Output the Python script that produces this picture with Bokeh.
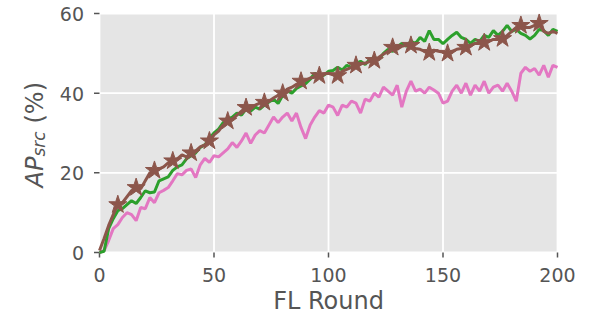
import math
from bokeh.plotting import figure
from bokeh.models import Range1d, Label
from bokeh.core.properties import value
from bokeh.embed import file_html
from bokeh.resources import INLINE

rounds = list(range(0, 201, 2))
pink = [0, 0.5, 3, 6, 7, 8.8, 10, 9.5, 8, 11.3,
        11, 13.8, 12.5, 15, 15.6, 16.3, 18, 19.8, 19.5, 20.6,
        21, 18.8, 22, 23.6, 22.6, 24.3, 24, 25, 26, 27.6,
        26.4, 28, 30, 27.4, 29.5, 30.6, 30, 32, 34, 32.6,
        34, 35, 33, 35, 31.4, 28.6, 32, 34, 35.6, 35,
        37, 36.5, 34.4, 37, 36.5, 38, 37.5, 35, 38.5, 38,
        40, 39, 41.5, 40.5, 39.5, 42, 36.5, 40.5, 43, 40.5,
        41, 40, 41.5, 40.8, 40, 37.5, 38, 40.5, 42, 40,
        42.5, 39.5, 42, 40.5, 43, 40, 41.5, 42, 40.5, 42.5,
        40.5, 38, 45, 46.5, 45.5, 46.2, 44.5, 47, 44, 47,
        46.5]
green = [0, 0.3, 6, 8.5, 10.5, 11, 12, 13, 12.3, 13.8,
         15.5, 15, 15.2, 18, 18.5, 19, 20.6, 21.5, 22, 23.5,
         24.3, 25, 26.4, 27, 28.6, 30, 31, 32.6, 33.5, 34,
         35, 34.5, 36, 35.5, 36.5, 36, 37, 37.8, 38.5, 37.4,
         39.5, 40.5, 40, 41.2, 41.8, 42.4, 43.5, 45, 44, 44.5,
         45.5, 45.7, 46.5, 45.8, 47, 46.5, 47.5, 48, 47.2, 48.5,
         49, 48.5, 50, 51, 50.5, 51.6, 52.5, 51.8, 53, 52.5,
         54, 53, 55.7, 53.5, 53.5, 52.4, 53.5, 54.5, 55.3, 54,
         53.5, 52.5, 53.5, 53, 54.5, 54, 55.7, 54.5, 55.5, 57,
         55.5, 56, 55, 54.5, 53.6, 54.5, 56, 55.7, 54.5, 56,
         55.5]
brown = [0.5, 3.5, 6.8, 9.5, 12, 12.5, 14, 15.5, 16.3, 16,
         18, 20, 20.6, 21, 21.5, 22.5, 23, 23.5, 24.5, 24,
         25, 25.5, 26.5, 27, 28, 29.5, 30.5, 32, 33, 33.5,
         34.5, 35.5, 36.4, 36, 37, 37.5, 37.7, 38, 38.8, 39.5,
         40, 41, 41.5, 42.2, 43, 43.2, 43.8, 44, 44.4, 44.8,
         45, 44.6, 44.4, 45.5, 46, 46.5, 47, 47.4, 47.5, 48,
         48.2, 49, 49.8, 50.5, 51.5, 51, 51.8, 52, 52, 51.2,
         51, 50.5, 50.2, 50.8, 50.5, 50.3, 50, 50.5, 51, 51.2,
         51.5, 52, 52.5, 52.5, 52.7, 53, 53.5, 53.5, 53.7, 54.5,
         55.5, 56.5, 57, 56.5, 56.5, 57, 57.5, 55.5, 55, 55.5,
         55]
star_rounds = list(range(8, 193, 8))
star_vals = [brown[rounds.index(r)] for r in star_rounds]
x_ticks = [0, 50, 100, 150, 200]
x_tick_labels = ["0", "50", "100", "150", "200"]
y_ticks = [0, 20, 40, 60]
y_tick_labels = ["0", "20", "40", "60"]
x_label = "FL Round"

TXT = "#555555"
W, H = 600, 315
# data area: 458 x 239 px, left edge 99 px and top edge 13 px from the canvas corner
PX_X = 458 / (x_ticks[-1] - x_ticks[0])
PX_Y = 239 / (y_ticks[-1] - y_ticks[0])
LEFT, TOP = 99, 13
BOTTOM = H - (TOP + 239)

p = figure(frame_width=W, frame_height=H, output_backend="svg", toolbar_location=None,
           x_range=Range1d(x_ticks[0] - LEFT / PX_X, x_ticks[0] + (W - LEFT) / PX_X),
           y_range=Range1d(y_ticks[0] - BOTTOM / PX_Y, y_ticks[-1] + TOP / PX_Y),
           x_axis_location=None, y_axis_location=None, min_border=0)
p.background_fill_color = "white"
p.border_fill_color = "white"
p.outline_line_color = None
p.grid.visible = False

# grey data area with white grid
p.quad(left=[x_ticks[0]], right=[x_ticks[-1]], bottom=[y_ticks[0]], top=[y_ticks[-1]],
       fill_color="#E5E5E5", line_color=None, level="image")
p.segment(x0=x_ticks, y0=[y_ticks[0]] * len(x_ticks), x1=x_ticks, y1=[y_ticks[-1]] * len(x_ticks),
          line_color="white", line_width=1.8, level="underlay")
p.segment(x0=[x_ticks[0]] * len(y_ticks), y0=y_ticks, x1=[x_ticks[-1]] * len(y_ticks), y1=y_ticks,
          line_color="white", line_width=1.8, level="underlay")

# ticks
tl_x = 5.5 / PX_X
tl_y = 5 / PX_Y
p.segment(x0=[x_ticks[0] - tl_x] * len(y_ticks), y0=y_ticks, x1=[x_ticks[0]] * len(y_ticks), y1=y_ticks,
          line_color=TXT, line_width=1.5)
p.segment(x0=x_ticks, y0=[y_ticks[0]] * len(x_ticks), x1=x_ticks, y1=[y_ticks[0] - tl_y] * len(x_ticks),
          line_color=TXT, line_width=1.5)

# tick labels
font = value("DejaVu Sans")
p.text(x=[x_ticks[0]] * len(y_ticks), y=y_ticks, text=y_tick_labels, x_offset=-15.5, y_offset=0.5,
       text_align="right", text_baseline="alphabetic", text_color=TXT,
       text_font=font, text_font_size=value("19px"))
p.text(x=x_ticks, y=[y_ticks[0]] * len(x_ticks), text=x_tick_labels, y_offset=22.5,
       text_align="center", text_baseline="alphabetic", text_color=TXT,
       text_font=font, text_font_size=value("19px"))
p.text(x=[(x_ticks[0] + x_ticks[-1]) / 2], y=[y_ticks[0]], text=[x_label], y_offset=48,
       text_align="center", text_baseline="alphabetic", text_color=TXT,
       text_font=font, text_font_size=value("24px"))

# series
p.line(rounds, pink, line_color="#e377c2", line_width=3)
p.line(rounds, green, line_color="#2ca02c", line_width=3)
p.line(rounds, brown, line_color="#8c564b", line_width=3)
p.scatter(star_rounds, star_vals, marker="star", size=19,
          fill_color="#8c564b", line_color="#8c564b")

# y-axis label: italic AP, italic subscript src, upright (%)
common = dict(x_units="screen", y_units="screen", angle=math.pi / 2,
              text_font="DejaVu Sans", text_color=TXT,
              text_align="left", text_baseline="alphabetic")
p.add_layout(Label(x=34, y=BOTTOM + 65, text="AP", text_font_size="24px",
                   text_font_style="italic", **common))
p.add_layout(Label(x=38, y=BOTTOM + 96, text="src", text_font_size="17px",
                   text_font_style="italic", **common))
p.add_layout(Label(x=34, y=BOTTOM + 129, text="(%)", text_font_size="24px",
                   text_font_style="normal", **common))

open("out.html", "w").write(file_html(p, INLINE))
